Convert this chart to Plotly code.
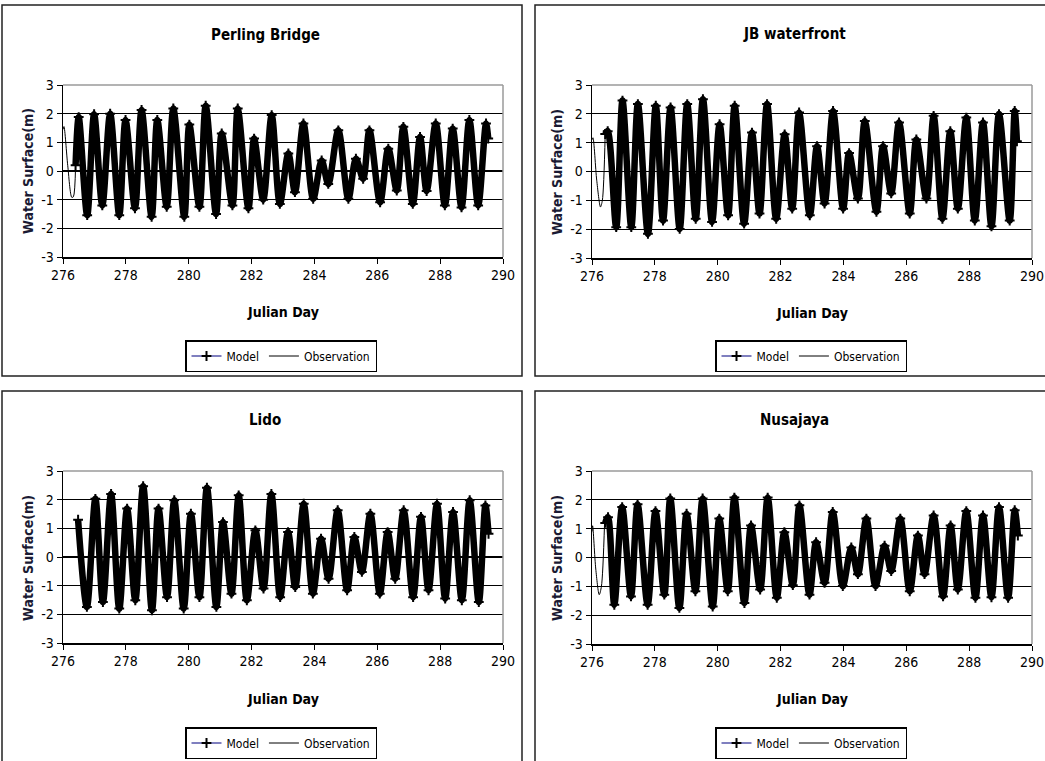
import plotly.graph_objects as go

W, H = 1045, 761
FONT = "Liberation Sans Narrow, Arial Narrow, DejaVu Sans Condensed, sans-serif"

# ---------------- data (tidal extrema) ----------------
titles = ["Perling Bridge", "JB waterfront", "Lido", "Nusajaya"]
x_ticks = [276, 278, 280, 282, 284, 286, 288, 290]
y_ticks = [-3, -2, -1, 0, 1, 2, 3]
y_tick_text = ["-3", "-2", "-1", "0", "1", "2", "3"]

perling_obs_day = [276.0, 276.03, 276.15, 276.28, 276.33, 276.40]
perling_obs_val = [1.45, 1.55, 0.2, -0.92, -0.9, 0.2]
perling_day = [276.40, 276.50, 276.77, 276.99, 277.25, 277.50, 277.79, 277.99, 278.29, 278.50,
               278.82, 279.00, 279.30, 279.51, 279.86, 280.02, 280.34, 280.54, 280.87, 281.05,
               281.39, 281.56, 281.90, 282.08, 282.37, 282.64, 282.90, 283.17, 283.38, 283.65,
               283.96, 284.23, 284.44, 284.76, 285.08, 285.32, 285.55, 285.75, 286.09, 286.35,
               286.62, 286.83, 287.13, 287.36, 287.57, 287.86, 288.15, 288.40, 288.68, 288.93,
               289.21, 289.46, 289.53]
perling_val = [0.2, 1.88, -1.54, 1.98, -1.20, 2.00, -1.54, 1.78, -1.30, 2.13,
               -1.60, 1.78, -1.25, 2.18, -1.60, 1.62, -1.25, 2.28, -1.50, 1.31,
               -1.20, 2.18, -1.30, 1.13, -1.00, 1.95, -1.15, 0.61, -0.74, 1.66,
               -0.97, 0.37, -0.45, 1.42, -0.97, 0.43, -0.27, 1.42, -1.09, 0.78,
               -0.68, 1.54, -1.15, 1.19, -0.70, 1.66, -1.20, 1.48, -1.27, 1.78,
               -1.20, 1.66, 1.13]

jb_obs_day = [276.0, 276.03, 276.15, 276.27, 276.33, 276.42]
jb_obs_val = [1.1, 1.17, -0.3, -1.23, -1.0, 1.3]
jb_day = [276.42, 276.50, 276.77, 276.97, 277.25, 277.46, 277.78, 278.03, 278.26, 278.50,
          278.79, 279.03, 279.30, 279.53, 279.82, 280.06, 280.33, 280.54, 280.84, 281.09,
          281.33, 281.57, 281.86, 282.13, 282.37, 282.59, 282.93, 283.16, 283.40, 283.67,
          283.99, 284.18, 284.46, 284.68, 285.05, 285.26, 285.52, 285.77, 286.11, 286.32,
          286.64, 286.87, 287.15, 287.40, 287.64, 287.91, 288.18, 288.44, 288.71, 288.95,
          289.29, 289.45, 289.52]
jb_val = [1.30, 1.40, -1.93, 2.46, -1.93, 2.34, -2.16, 2.28, -1.70, 2.22,
          -1.99, 2.34, -1.64, 2.51, -1.75, 1.64, -1.52, 2.28, -1.81, 1.35,
          -1.46, 2.34, -1.64, 1.29, -1.29, 2.05, -1.52, 0.88, -1.11, 2.10,
          -1.29, 0.64, -0.94, 1.75, -1.40, 0.88, -0.76, 1.70, -1.46, 1.11,
          -0.94, 1.93, -1.64, 1.40, -1.29, 1.87, -1.70, 1.70, -1.90, 1.99,
          -1.70, 2.10, 1.05]

lido_obs_day = []
lido_obs_val = []
lido_day = [276.48, 276.76, 277.03, 277.27, 277.53, 277.79, 278.04, 278.30, 278.55, 278.83,
            279.04, 279.31, 279.54, 279.84, 280.07, 280.34, 280.58, 280.88, 281.09, 281.36,
            281.59, 281.85, 282.12, 282.38, 282.63, 282.91, 283.16, 283.39, 283.66, 283.95,
            284.21, 284.45, 284.74, 285.04, 285.27, 285.51, 285.78, 286.08, 286.33, 286.57,
            286.84, 287.14, 287.39, 287.63, 287.90, 288.16, 288.41, 288.69, 288.94, 289.23,
            289.44, 289.54]
lido_val = [1.30, -1.74, 2.03, -1.57, 2.20, -1.80, 1.69, -1.51, 2.47, -1.86,
            1.69, -1.40, 1.98, -1.80, 1.51, -1.40, 2.42, -1.74, 1.22, -1.28,
            2.15, -1.51, 0.93, -1.10, 2.20, -1.40, 0.87, -1.05, 1.86, -1.28,
            0.64, -0.76, 1.63, -1.16, 0.70, -0.52, 1.51, -1.28, 0.87, -0.76,
            1.63, -1.40, 1.40, -1.16, 1.86, -1.45, 1.57, -1.51, 1.98, -1.57,
            1.80, 0.81]

nusa_obs_day = [276.0, 276.02, 276.12, 276.23, 276.30, 276.40]
nusa_obs_val = [0.9, 1.1, -0.4, -1.29, -1.0, 1.2]
nusa_day = [276.42, 276.51, 276.71, 276.96, 277.24, 277.45, 277.77, 278.02, 278.30, 278.49,
            278.78, 279.01, 279.29, 279.52, 279.84, 280.05, 280.32, 280.53, 280.85, 281.06,
            281.35, 281.59, 281.88, 282.12, 282.39, 282.60, 282.92, 283.13, 283.40, 283.66,
            283.98, 284.25, 284.46, 284.73, 285.02, 285.31, 285.52, 285.81, 286.11, 286.37,
            286.58, 286.87, 287.17, 287.41, 287.64, 287.91, 288.20, 288.44, 288.71, 288.95,
            289.24, 289.45, 289.55]
nusa_val = [1.20, 1.40, -1.64, 1.75, -1.35, 1.85, -1.64, 1.61, -1.29, 2.05,
            -1.75, 1.52, -1.17, 2.05, -1.70, 1.35, -1.17, 2.08, -1.58, 1.11,
            -1.11, 2.08, -1.40, 0.88, -0.96, 1.81, -1.29, 0.53, -0.88, 1.58,
            -0.99, 0.35, -0.58, 1.35, -0.99, 0.41, -0.47, 1.35, -1.17, 0.76,
            -0.58, 1.46, -1.35, 1.11, -1.11, 1.61, -1.40, 1.46, -1.38, 1.75,
            -1.40, 1.64, 0.76]

model_days = [perling_day, jb_day, lido_day, nusa_day]
model_vals = [perling_val, jb_val, lido_val, nusa_val]
obs_days = [perling_obs_day, jb_obs_day, lido_obs_day, nusa_obs_day]
obs_vals = [perling_obs_val, jb_obs_val, lido_obs_val, nusa_obs_val]

# ---------------- layout geometry (pixels) ----------------
def fx(p):
    return p / W

def fy(p):
    return 1 - p / H

panel_box = [(2, 5, 522, 376), (535, 5, 1050, 376), (2, 391, 522, 766), (535, 391, 1050, 766)]
plot_box = [(63, 85, 503, 257), (592, 85, 1032, 258), (63, 471, 503, 643), (592, 471, 1032, 644)]
title_pos = [(265, 35), (794, 34), (265, 420), (794, 420)]
xtitle_pos = [(283, 312), (812, 313), (283, 699), (812, 699)]
ytitle_pos = [(28, 171), (557, 172), (28, 558), (557, 558)]
legend_pos = [(281, 356), (811, 356), (281, 743), (811, 743)]

fig = go.Figure()
layout = dict(
    width=W, height=H, margin=dict(l=0, r=0, t=0, b=0, autoexpand=False),
    paper_bgcolor="white", plot_bgcolor="white",
    font=dict(family=FONT, color="black", size=13),
    showlegend=True, shapes=[], annotations=[],
)

for i in range(4):
    ax = "" if i == 0 else str(i + 1)
    xa, ya = "x" + ax, "y" + ax
    leg = "legend" if i == 0 else "legend" + str(i + 1)
    x0, y0, x1, y1 = plot_box[i]

    fig.add_trace(go.Scatter(x=model_days[i], y=model_vals[i], mode="lines+markers", name="Model",
                             line=dict(color="#000080", width=1.2, shape="spline", smoothing=0.9),
                             marker=dict(symbol="cross-thin", size=7, color="black",
                                         line=dict(color="black", width=2)),
                             xaxis=xa, yaxis=ya, legend=leg))
    # thick band imitating the dense model markers
    fig.add_trace(go.Scatter(x=model_days[i], y=model_vals[i], mode="lines",
                             line=dict(color="black", width=6.5, shape="spline", smoothing=0.9),
                             showlegend=False, hoverinfo="skip", xaxis=xa, yaxis=ya))
    fig.add_trace(go.Scatter(x=obs_days[i] if obs_days[i] else [None],
                             y=obs_vals[i] if obs_vals[i] else [None],
                             mode="lines", name="Observation",
                             line=dict(color="black", width=1, shape="spline", smoothing=0.8),
                             xaxis=xa, yaxis=ya, legend=leg))

    layout["xaxis" + ax] = dict(
        domain=[fx(x0), fx(x1)], range=[276, 290], anchor=ya, automargin=False,
        tickvals=x_ticks, ticks="outside", ticklen=5, tickcolor="black",
        showline=True, linecolor="black", linewidth=1.5, showgrid=False, zeroline=False,
        tickfont=dict(size=14, family=FONT),
    )
    layout["yaxis" + ax] = dict(
        domain=[fy(y1), fy(y0)], range=[-3, 3], anchor=xa, automargin=False,
        tickvals=y_ticks, ticktext=y_tick_text, ticks="outside", ticklen=5, tickcolor="black",
        showline=True, linecolor="black", linewidth=1.5,
        showgrid=True, gridcolor="black", gridwidth=1.3, zeroline=False,
        tickfont=dict(size=14, family=FONT),
    )
    # gray plot-area border (top/right)
    layout["shapes"].append(dict(type="line", xref=xa + " domain", yref=ya + " domain",
                                 x0=0, x1=1, y0=1, y1=1, line=dict(color="#9a9a9a", width=1.5)))
    layout["shapes"].append(dict(type="line", xref=xa + " domain", yref=ya + " domain",
                                 x0=1, x1=1, y0=0, y1=1, line=dict(color="#9a9a9a", width=1.5)))
    # panel frame
    bx0, by0, bx1, by1 = panel_box[i]
    layout["shapes"].append(dict(type="rect", xref="paper", yref="paper",
                                 x0=fx(bx0), x1=fx(bx1), y0=fy(by1), y1=fy(by0),
                                 line=dict(color="#222222", width=1.5)))
    tx, ty = title_pos[i]
    layout["annotations"].append(dict(text="<b>" + titles[i] + "</b>", x=fx(tx), y=fy(ty),
                                      xref="paper", yref="paper", showarrow=False,
                                      xanchor="center", yanchor="middle",
                                      font=dict(size=15, family=FONT)))
    tx, ty = xtitle_pos[i]
    layout["annotations"].append(dict(text="<b>Julian Day</b>", x=fx(tx), y=fy(ty),
                                      xref="paper", yref="paper", showarrow=False,
                                      xanchor="center", yanchor="middle",
                                      font=dict(size=14, family=FONT)))
    tx, ty = ytitle_pos[i]
    layout["annotations"].append(dict(text="<b>Water Surface(m)</b>", x=fx(tx), y=fy(ty),
                                      xref="paper", yref="paper", showarrow=False, textangle=-90,
                                      xanchor="center", yanchor="middle",
                                      font=dict(size=14, family=FONT, color="#1a1a33")))
    lx, ly = legend_pos[i]
    layout[leg] = dict(x=fx(lx), y=fy(ly), xanchor="center", yanchor="middle",
                       orientation="h", bordercolor="black", borderwidth=1.5, bgcolor="white",
                       font=dict(size=12, family=FONT), itemwidth=30, tracegroupgap=0,
                       itemclick=False)

fig.update_layout(**layout)
fig.write_html("out.html", config={"displayModeBar": False, "staticPlot": True},
               post_script="document.body.style.margin='0px';document.body.style.overflow='hidden';")
